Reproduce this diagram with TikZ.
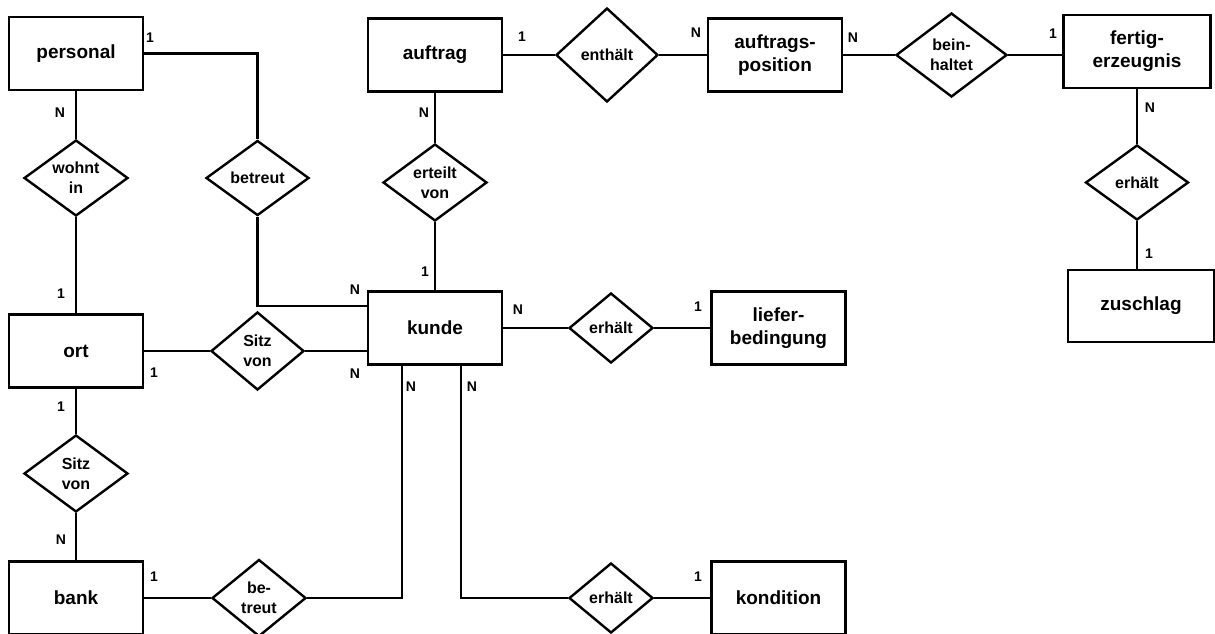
\documentclass[tikz,border=0pt]{standalone}
\usepackage{fontspec}
\setmainfont{Liberation Sans}
\usetikzlibrary{shapes}

\begin{document}
\begin{tikzpicture}
  [x=1pt,y=-1pt,line width=2.4pt,
   entity/.style={rectangle,draw,minimum width=134pt,minimum height=73pt,align=center,
     font=\fontsize{19}{23}\selectfont\bfseries},
   relation/.style={diamond,draw,aspect=1.35,inner sep=0pt,align=center,
     font=\fontsize{16}{20}\selectfont\bfseries},
   card/.style={inner sep=0pt,font=\fontsize{14}{14}\selectfont\bfseries}]
  \useasboundingbox (0,0) rectangle (1215,633);

  \node[entity] (personal)  at (76,53.5)   {personal};
  \node[entity] (auftrag)   at (435,55)    {auftrag};
  \node[entity] (position)  at (775,55)    {auftrags-\\position};
  \node[entity,minimum width=147pt] (fertig) at (1137,51.5) {fertig-\\erzeugnis};
  \node[entity,minimum width=146pt,minimum height=72pt] (zuschlag) at (1141,306) {zuschlag};
  \node[entity] (ort)       at (76,351)    {ort};
  \node[entity] (kunde)     at (435,328)   {kunde};
  \node[entity] (liefer)    at (778.5,328) {liefer-\\bedingung};
  \node[entity] (bank)      at (76,598)    {bank};
  \node[entity] (kondition) at (778.5,598) {kondition};

  \node[relation,minimum width=104pt,minimum height=76pt] (wohnt)      at (76,178)     {wohnt\\in};
  \node[relation,minimum width=103pt,minimum height=75pt] (betreut)    at (257.5,178)  {betreut};
  \node[relation,minimum width=104pt,minimum height=77pt] (erteilt)    at (435,182.5)  {erteilt\\von};
  \node[relation,minimum width=102pt,minimum height=94pt] (enthaelt)   at (607,55)     {enthält};
  \node[relation,minimum width=111pt,minimum height=84pt] (beinhaltet) at (951.5,55)   {bein-\\haltet};
  \node[relation,minimum width=103pt,minimum height=75pt] (erhaeltz)   at (1137,182.5) {erhält};
  \node[relation,minimum width=93pt,minimum height=78pt]  (sitzk)      at (257.5,351)  {Sitz\\von};
  \node[relation,minimum width=104pt,minimum height=77pt] (sitzb)      at (76,473.5)   {Sitz\\von};
  \node[relation,minimum width=94pt,minimum height=77pt]  (betreutb)   at (259,598)    {be-\\treut};
  \node[relation,minimum width=84pt,minimum height=70pt]  (erhaeltl)   at (611,328)    {erhält};
  \node[relation,minimum width=84pt,minimum height=70pt]  (erhaeltk)   at (611,598)    {erhält};

  \foreach \from/\to in {personal/wohnt,wohnt/ort,ort/sitzb,sitzb/bank,ort/sitzk,
      bank/betreutb,auftrag/erteilt,erteilt/kunde,auftrag/enthaelt,enthaelt/position,
      position/beinhaltet,fertig/erhaeltz,kunde/erhaeltl,erhaeltl/liefer,erhaeltk/kondition}
    \draw (\from) -- (\to);

  \draw (personal) -| (betreut);
  \draw (betreut) |- ([yshift=22pt]kunde.west);
  \draw (sitzk) -- (sitzk -| kunde.west);
  \draw (betreutb) -| ([xshift=-33pt]kunde.south);
  \draw ([xshift=26pt]kunde.south) |- (erhaeltk);
  \draw (beinhaltet) -- (beinhaltet -| fertig.west);
  \draw (erhaeltz) -- (erhaeltz |- zuschlag.north);

  % cardinalities
  \node[card] (k1)  at (150,38)   {1};
  \node[card] (k2)  at (60,113)   {N};
  \node[card] (k3)  at (61,294)   {1};
  \node[card] (k4)  at (355,290)  {N};
  \node[card] (k5)  at (522,37)   {1};
  \node[card] (k6)  at (696,33)   {N};
  \node[card] (k7)  at (424,113)  {N};
  \node[card] (k8)  at (425,272)  {1};
  \node[card] (k9)  at (853,38)   {N};
  \node[card] (k10) at (1053,34)  {1};
  \node[card] (k11) at (1150,108) {N};
  \node[card] (k12) at (1149,254) {1};
  \node[card] (k13) at (154,373)  {1};
  \node[card] (k14) at (355,374)  {N};
  \node[card] (k15) at (61,407)   {1};
  \node[card] (k16) at (61,540)   {N};
  \node[card] (k17) at (154,577)  {1};
  \node[card] (k18) at (411,387)  {N};
  \node[card] (k19) at (518,310)  {N};
  \node[card] (k20) at (698,307)  {1};
  \node[card] (k21) at (472,387)  {N};
  \node[card] (k22) at (698,577)  {1};

\end{tikzpicture}
\end{document}
